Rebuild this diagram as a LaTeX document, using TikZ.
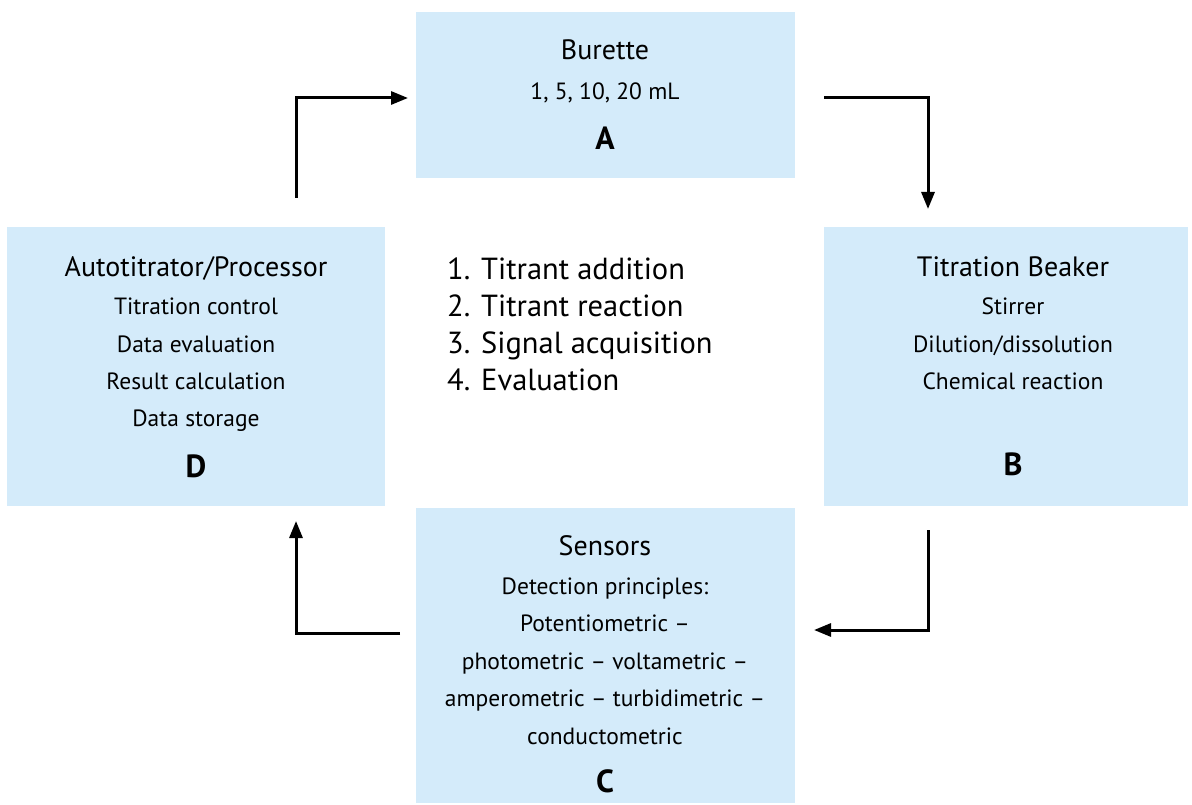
\documentclass[tikz,border=0pt]{standalone}
\usepackage{fontspec}
\setmainfont{PT Sans}
\usetikzlibrary{arrows.meta}
\definecolor{boxblue}{HTML}{D4EBFA}
\begin{document}
\begin{tikzpicture}[x=1pt,y=-1pt,
  box/.style={fill=boxblue,draw=none,inner sep=0pt},
  base/.style={inner sep=0pt,text height=0.72em,text depth=0.02em,yshift=-6pt},
  ttl/.style={base,font=\fontsize{28}{32}\selectfont,anchor=center},
  txt/.style={base,font=\fontsize{23.5}{27}\selectfont,anchor=center},
  letter/.style={base,font=\fontsize{32}{36}\bfseries\selectfont,anchor=center},
  lst/.style={base,font=\fontsize{30.5}{34}\selectfont,anchor=west},
  arr/.style={line width=3pt,-{Triangle[length=17pt,width=13pt]}}]
\useasboundingbox (0,0) rectangle (1192,805);
% boxes
\node[box,minimum width=379pt,minimum height=166pt] (A) at (605.5,95) {};
\node[box,minimum width=364pt,minimum height=279pt] (B) at (1006,366.5) {};
\node[box,minimum width=379pt,minimum height=295pt] (C) at (605.5,655.5) {};
\node[box,minimum width=378pt,minimum height=279pt] (D) at (196,366.5) {};
% A text
\node[ttl] (a1) at (605,50) {Burette};
\node[txt] (a2) at (605,90) {1, 5, 10, 20 mL};
\node[letter] (a3) at (605,140) {A};
% B text
\node[ttl] (b1) at (1013,267) {Titration Beaker};
\node[txt] (b2) at (1013,305) {Stirrer};
\node[txt] (b3) at (1013,343) {Dilution/dissolution};
\node[txt] (b4) at (1013,380) {Chemical reaction};
\node[letter] (b5) at (1013,466) {B};
% C text
\node[ttl] (c1) at (605,546) {Sensors};
\node[txt] (c2) at (605,585) {Detection principles:};
\node[txt] (c3) at (605,622) {Potentiometric --};
\node[txt] (c4) at (605,660) {photometric -- voltametric --};
\node[txt] (c5) at (605,697) {amperometric -- turbidimetric --};
\node[txt] (c6) at (605,735) {conductometric};
\node[letter] (c7) at (605,783) {C};
% D text
\node[ttl] (d1) at (196,267) {Autotitrator/Processor};
\node[txt] (d2) at (196,305) {Titration control};
\node[txt] (d3) at (196,343) {Data evaluation};
\node[txt] (d4) at (196,380) {Result calculation};
\node[txt] (d5) at (196,417) {Data storage};
\node[letter] (d6) at (196,468) {D};
% middle list
\node[lst] (m1) at (447,270) {1. Titrant addition};
\node[lst] (m2) at (447,307) {2. Titrant reaction};
\node[lst] (m3) at (447,344) {3. Signal acquisition};
\node[lst] (m4) at (447,381) {4. Evaluation};
% connector endpoints
\coordinate (da0) at (296,198);
\coordinate (da1) at (408,98);
\coordinate (ab0) at (824,98);
\coordinate (ab1) at (928,209);
\coordinate (bc0) at (928,530);
\coordinate (bc1) at (814,630);
\coordinate (cd0) at (400,633);
\coordinate (cd1) at (296,521);
\draw[arr] (da0) |- (da1);
\draw[arr] (ab0) -| (ab1);
\draw[arr] (bc0) |- (bc1);
\draw[arr] (cd0) -| (cd1);
\end{tikzpicture}
\end{document}
